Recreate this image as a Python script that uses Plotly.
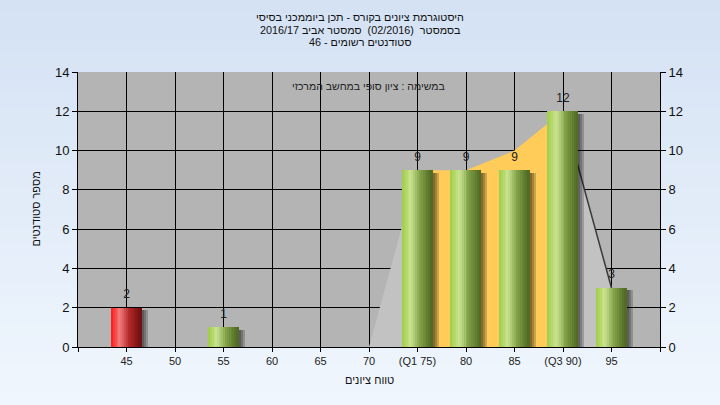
import plotly.graph_objects as go

# ---------------- data ----------------
grades = [45, 50, 55, 60, 65, 70, 75, 80, 85, 90, 95]
tick_labels = ["45", "50", "55", "60", "65", "70", "(Q1 75)", "80", "85", "(Q3 90)", "95"]
counts = [2, 0, 1, 0, 0, 0, 9, 9, 9, 12, 3]
curve_x = [70, 75, 80, 85, 90, 95]
curve_y = [0, 9, 9, 10, 12, 3]
q1 = 75
q3 = 90
pass_grade = 55
y_ticks = [0, 2, 4, 6, 8, 10, 12, 14]

title_lines = [
    "היסטוגרמת ציונים בקורס - תכן ביוממכני בסיסי",
    "בסמסטר  (02/2016)  סמסטר אביב 2016/17",
    "סטודנטים רשומים - 46",
]
subtitle = "במשימה : ציון סופי במחשב המרכזי"
x_title = "טווח ציונים"
y_title = "מספר סטודנטים"

# ---------------- styles ----------------
FONT = "Arial, 'Liberation Sans', 'DejaVu Sans', sans-serif"
W, H = 720, 405
ML, MR, MT, MB = 78, 60, 72, 58
PW, PH = W - ML - MR, H - MT - MB
BAR_W = 3.1
N_STRIPS = 16

green_stops = [(0.0, (160, 204, 70)), (0.3, (202, 228, 146)), (0.6, (128, 160, 70)), (1.0, (78, 104, 34))]
red_stops = [(0.0, (255, 24, 24)), (0.3, (242, 126, 126)), (0.6, (178, 40, 40)), (1.0, (110, 14, 14))]


def interp(stops, t):
    for (t0, c0), (t1, c1) in zip(stops[:-1], stops[1:]):
        if t0 <= t <= t1:
            f = (t - t0) / (t1 - t0) if t1 > t0 else 0
            return "rgb(%d,%d,%d)" % tuple(round(a + (b - a) * f) for a, b in zip(c0, c1))
    return "rgb(%d,%d,%d)" % stops[-1][1]


fig = go.Figure()

# ---- area behind bars (main subplot x/y) ----
lo_x = [x for x in curve_x if x <= q1]
lo_y = [y for x, y in zip(curve_x, curve_y) if x <= q1]
mid_x = [x for x in curve_x if q1 <= x <= q3]
mid_y = [y for x, y in zip(curve_x, curve_y) if q1 <= x <= q3]
hi_x = [x for x in curve_x if x >= q3]
hi_y = [y for x, y in zip(curve_x, curve_y) if x >= q3]

fig.add_trace(go.Scatter(x=lo_x, y=lo_y, mode="lines", fill="tozeroy",
                         fillcolor="#c2c2c2", line=dict(width=0, color="#c2c2c2"),
                         hoverinfo="skip", showlegend=False))
fig.add_trace(go.Scatter(x=mid_x, y=mid_y, mode="lines", fill="tozeroy",
                         fillcolor="#ffcc5a", line=dict(width=0, color="#ffcc5a"),
                         hoverinfo="skip", showlegend=False))
fig.add_trace(go.Scatter(x=hi_x, y=hi_y, mode="lines", fill="tozeroy",
                         fillcolor="#c2c2c2", line=dict(width=1.5, color="#3a3a3a"),
                         hoverinfo="skip", showlegend=False))

# ---- bar shadows (overlay subplot x/y2, drawn above the area) ----
for k, off in enumerate([0.25, 0.45, 0.65]):
    fig.add_trace(go.Bar(x=grades, y=[max(c - 0.12, 0) if c > 0 else 0 for c in counts],
                         width=BAR_W, offset=-BAR_W / 2 + off, yaxis="y2",
                         marker=dict(color="rgba(0,0,0,0.2)", line=dict(width=0)),
                         hoverinfo="skip", showlegend=False))

# ---- bars as gradient strips ----
sw = BAR_W / N_STRIPS
for i in range(N_STRIPS):
    t = (i + 0.5) / N_STRIPS
    cols = [interp(red_stops if g < pass_grade else green_stops, t) for g in grades]
    fig.add_trace(go.Bar(x=grades, y=counts, width=sw * 1.05, offset=-BAR_W / 2 + i * sw,
                         yaxis="y2", marker=dict(color=cols, line=dict(width=0)),
                         hoverinfo="skip", showlegend=False))

# ---- value labels ----
lab_x = [g for g, c in zip(grades, counts) if c > 0]
lab_y = [c for c in counts if c > 0]
fig.add_trace(go.Scatter(x=lab_x, y=lab_y, mode="markers+text", text=[str(c) for c in lab_y],
                         textposition="top center", yaxis="y2",
                         marker=dict(size=9, color="rgba(0,0,0,0)"),
                         textfont=dict(family=FONT, size=12, color="#222222"),
                         hoverinfo="skip", showlegend=False, cliponaxis=False))

# ---- background gradient shapes ----
shapes = []
x0p, x1p = -ML / PW, 1 + MR / PW
ytop, ybot = 1 + MT / PH, -MB / PH
nb = 30
top_c, bot_c = (212, 226, 244), (240, 246, 253)
for i in range(nb):
    f = i / (nb - 1)
    c = tuple(round(a + (b - a) * f) for a, b in zip(top_c, bot_c))
    ya = ytop + (ybot - ytop) * i / nb
    yb = ytop + (ybot - ytop) * (i + 1) / nb
    shapes.append(dict(type="rect", xref="paper", yref="paper", x0=x0p, x1=x1p,
                       y0=yb - 0.002, y1=ya, fillcolor="rgb(%d,%d,%d)" % c,
                       line=dict(width=0), layer="below"))
shapes.append(dict(type="rect", xref="paper", yref="paper", x0=0, x1=1, y0=0, y1=1,
                   fillcolor="#b4b4b4", line=dict(width=0), layer="below"))

# ---- text annotations ----
ann = []
title_px = [17, 29.5, 42]
for line, py in zip(title_lines, title_px):
    ann.append(dict(text=line, xref="paper", yref="paper",
                    x=(360 - ML) / PW, y=1 + (MT - py) / PH,
                    xanchor="center", yanchor="middle", showarrow=False,
                    font=dict(family=FONT, size=10.8, color="#111111")))
ann.append(dict(text=subtitle, xref="paper", yref="paper", x=(368 - ML) / PW,
                y=1 + (MT - 86) / PH, xanchor="center", yanchor="middle", showarrow=False,
                font=dict(family=FONT, size=10.5, color="#222222")))
ann.append(dict(text=x_title, xref="paper", yref="paper", x=0.5, y=-(380 - (MT + PH)) / PH,
                xanchor="center", yanchor="middle", showarrow=False,
                font=dict(family=FONT, size=11, color="#111111")))
ann.append(dict(text=y_title, xref="paper", yref="paper", x=(35 - ML) / PW, y=0.5,
                xanchor="center", yanchor="middle", showarrow=False, textangle=-90,
                font=dict(family=FONT, size=11, color="#111111")))

axis_common = dict(showline=True, linecolor="#000000", linewidth=1, ticks="outside",
                   tickcolor="#000000", zeroline=False)

fig.update_layout(
    width=W, height=H, autosize=False,
    margin=dict(l=ML, r=MR, t=MT, b=MB, pad=0),
    paper_bgcolor="#e2ecf8", plot_bgcolor="rgba(0,0,0,0)",
    barmode="overlay", bargap=0,
    showlegend=False,
    shapes=shapes, annotations=ann,
    font=dict(family=FONT, color="#111111"),
    xaxis=dict(range=[40, 100], tickvals=[40] + grades + [100],
               ticktext=[""] + tick_labels + [""], showgrid=True, gridcolor="#000000",
               gridwidth=1, ticklen=4, tickfont=dict(size=11, color="#222222"),
               **axis_common),
    yaxis=dict(range=[0, 14], tickvals=y_ticks, showgrid=True, gridcolor="#000000",
               gridwidth=1, ticklen=5, tickfont=dict(size=13, color="#111111"),
               **axis_common),
    yaxis2=dict(range=[0, 14], tickvals=y_ticks, overlaying="y", side="right",
                showgrid=False, ticklen=5, tickfont=dict(size=13, color="#111111"),
                **axis_common),
)

fig.write_html("out.html", config={"displayModeBar": False},
               post_script="document.body.style.margin='0';document.body.style.padding='0';")
